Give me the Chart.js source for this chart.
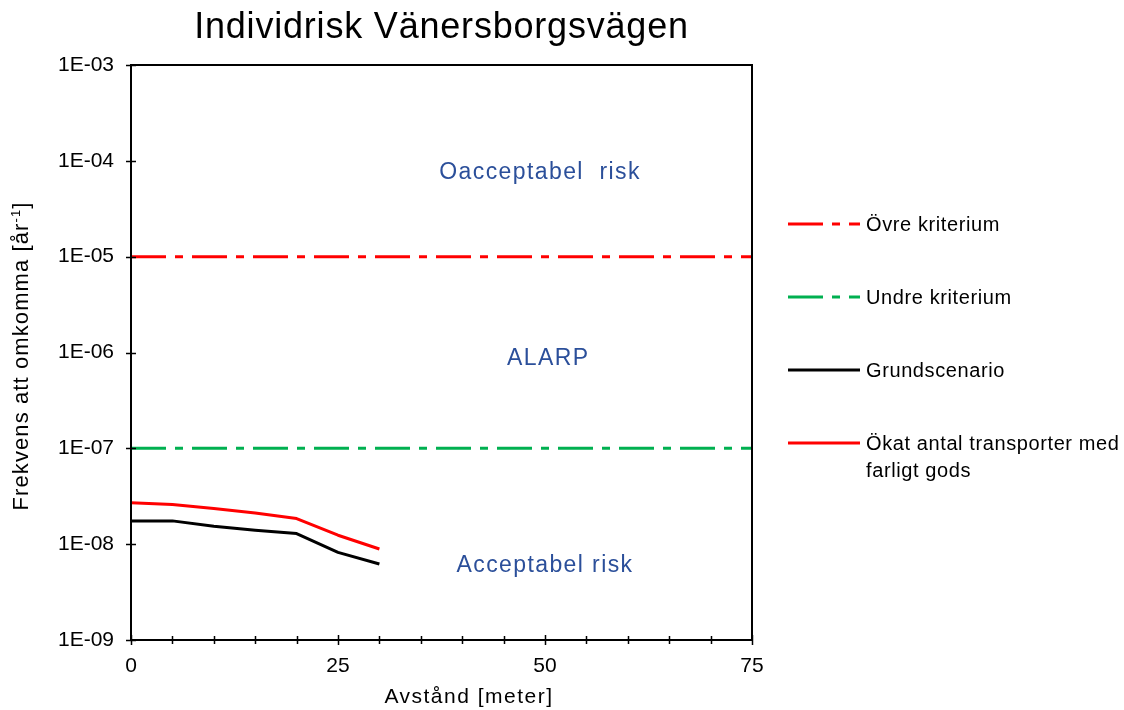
<!DOCTYPE html>
<html>
<head>
<meta charset="utf-8">
<script src="https://cdn.jsdelivr.net/npm/chart.js@4"></script>
<style>
  body { margin: 0; background: #fff; }
  #wrap { position: relative; width: 1124px; height: 710px; }
  #legend { position: absolute; left: 788px; top: 0; font-family: "Liberation Sans", Arial, sans-serif; font-size: 20px; letter-spacing: 0.6px; color: #000; }
  .item { position: absolute; left: 0; width: 340px; }
  .item svg { position: absolute; left: 0; top: 0; }
  .item span { position: absolute; left: 78px; top: -13px; line-height: 27px; white-space: nowrap; }
</style>
</head>
<body>
<div id="wrap">
  <canvas id="chart" width="1124" height="710"></canvas>
  <div id="legend"></div>
</div>
<script>
// data
const distance = [0, 5, 10, 15, 20, 25, 30];
const grundscenario = [1.75e-8, 1.75e-8, 1.54e-8, 1.40e-8, 1.29e-8, 8.2e-9, 6.2e-9];
const okatAntal = [2.70e-8, 2.60e-8, 2.36e-8, 2.12e-8, 1.85e-8, 1.24e-8, 8.9e-9];
const ovreKriterium = 1e-5;
const undreKriterium = 1e-7;
const xRange = [0, 75];
const xTicks = [0, 25, 50, 75];
const yTicks = [1e-9, 1e-8, 1e-7, 1e-6, 1e-5, 1e-4, 1e-3];
const zones = [
  { text: "Oacceptabel  risk", x: 49.4, y: 7.6e-5 },
  { text: "ALARP", x: 50.4, y: 8.7e-7 },
  { text: "Acceptabel risk", x: 50, y: 5.9e-9 }
];

const FONT = "'Liberation Sans', Arial, sans-serif";
const dashDot = [35, 9, 8, 9];

function spacedText(ctx, text, x, y, size, spacing, color) {
  ctx.font = size + 'px ' + FONT;
  ctx.letterSpacing = spacing + 'px';
  ctx.fillStyle = color;
  ctx.fillText(text, x, y);
}

// border, crossing tick marks, zone labels, title and axis titles
const extras = {
  id: 'extras',
  afterDraw(chart) {
    const { ctx, chartArea: a, scales: { x, y } } = chart;
    ctx.save();
    ctx.strokeStyle = '#000';
    ctx.lineWidth = 2;
    ctx.strokeRect(a.left, a.top, a.right - a.left, a.bottom - a.top);
    ctx.lineWidth = 1.5;
    ctx.beginPath();
    for (let v = xRange[0]; v <= xRange[1]; v += 5) {
      const px = Math.round(x.getPixelForValue(v)) + 0.5;
      const len = v % 25 === 0 ? 5 : 4;
      ctx.moveTo(px, a.bottom - len);
      ctx.lineTo(px, a.bottom + len);
    }
    yTicks.forEach(v => {
      const py = Math.round(y.getPixelForValue(v)) + 0.5;
      ctx.moveTo(a.left - 5, py);
      ctx.lineTo(a.left + 5, py);
    });
    ctx.stroke();

    ctx.textAlign = 'center';
    ctx.textBaseline = 'middle';
    zones.forEach(z => spacedText(ctx, z.text, x.getPixelForValue(z.x), y.getPixelForValue(z.y), 23, 1.4, '#2B4F9A'));

    spacedText(ctx, 'Individrisk Vänersborgsvägen', (a.left + a.right) / 2, 28, 36, 0.8, '#000');
    spacedText(ctx, 'Avstånd [meter]', 469, 697, 21, 1.5, '#000');

    // y axis title, rotated, with superscript -1
    ctx.save();
    ctx.translate(22, 356);
    ctx.rotate(-Math.PI / 2);
    ctx.textAlign = 'left';
    ctx.font = '22px ' + FONT;
    ctx.letterSpacing = '1.1px';
    const main = 'Frekvens att omkomma [år';
    const wMain = ctx.measureText(main).width;
    ctx.font = '13px ' + FONT;
    const wSup = ctx.measureText('-1').width;
    ctx.font = '22px ' + FONT;
    const wEnd = ctx.measureText(']').width;
    let cx = -(wMain + wSup + wEnd) / 2;
    spacedText(ctx, main, cx, 0, 22, 1.1, '#000');
    cx += wMain;
    spacedText(ctx, '-1', cx, -6, 13, 1.1, '#000');
    cx += wSup;
    spacedText(ctx, ']', cx, 0, 22, 1.1, '#000');
    ctx.restore();
    ctx.restore();
  }
};

const flat = v => [{ x: xRange[0], y: v }, { x: xRange[1], y: v }];
const pts = arr => distance.map((d, i) => ({ x: d, y: arr[i] }));

new Chart(document.getElementById('chart'), {
  type: 'line',
  data: {
    datasets: [
      { label: 'Övre kriterium', data: flat(ovreKriterium), borderColor: '#FF0000', borderWidth: 3, borderDash: dashDot },
      { label: 'Undre kriterium', data: flat(undreKriterium), borderColor: '#00B050', borderWidth: 3, borderDash: dashDot },
      { label: 'Grundscenario', data: pts(grundscenario), borderColor: '#000000', borderWidth: 3 },
      { label: 'Ökat antal transporter med farligt gods', data: pts(okatAntal), borderColor: '#FF0000', borderWidth: 3 }
    ]
  },
  options: {
    responsive: false,
    animation: false,
    layout: { padding: { top: 65, right: 372, left: 0, bottom: 0 } },
    elements: { point: { radius: 0 }, line: { tension: 0, borderJoinStyle: 'round' } },
    plugins: { legend: { display: false }, tooltip: { enabled: false } },
    scales: {
      x: {
        type: 'linear',
        min: xRange[0], max: xRange[1],
        afterBuildTicks: s => { s.ticks = xTicks.map(v => ({ value: v })); },
        afterFit: s => { s.height = 70; },
        grid: { display: false, drawTicks: false },
        border: { display: false },
        ticks: { color: '#000', font: { family: FONT, size: 21 }, padding: 14, maxRotation: 0 }
      },
      y: {
        type: 'logarithmic',
        min: 1e-9, max: 1e-3,
        afterBuildTicks: s => { s.ticks = yTicks.map(v => ({ value: v })); },
        afterFit: s => { s.width = 131; },
        grid: { display: false, drawTicks: false },
        border: { display: false },
        ticks: {
          color: '#000', font: { family: FONT, size: 21 }, padding: 17,
          callback: v => '1E-' + String(-Math.round(Math.log10(v))).padStart(2, '0')
        }
      }
    }
  },
  plugins: [extras]
});

// html legend
const legendItems = [
  { text: 'Övre kriterium', color: '#FF0000', dash: true, top: 224 },
  { text: 'Undre kriterium', color: '#00B050', dash: true, top: 297 },
  { text: 'Grundscenario', color: '#000000', dash: false, top: 370 },
  { text: 'Ökat antal transporter med<br>farligt gods', color: '#FF0000', dash: false, top: 443 }
];
const legend = document.getElementById('legend');
legendItems.forEach(it => {
  const d = document.createElement('div');
  d.className = 'item';
  d.style.top = it.top + 'px';
  d.innerHTML = '<svg width="74" height="6" style="top:-3px"><line x1="0" y1="3" x2="72" y2="3" stroke="' + it.color +
    '" stroke-width="3"' + (it.dash ? ' stroke-dasharray="' + dashDot.join(' ') + '"' : '') + '/></svg><span>' + it.text + '</span>';
  legend.appendChild(d);
});
</script>
</body>
</html>
